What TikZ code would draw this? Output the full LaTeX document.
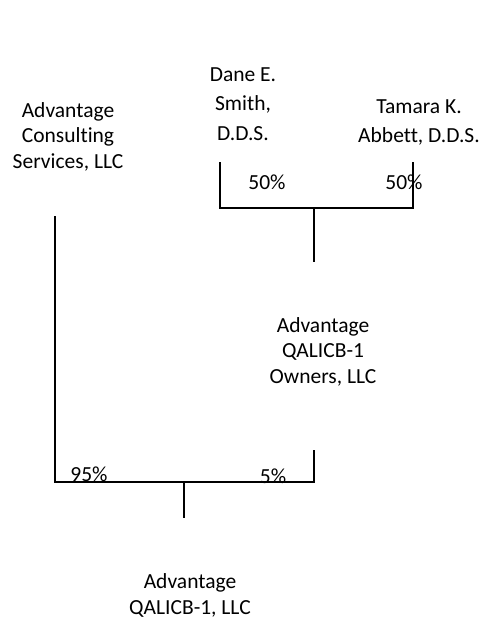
\documentclass[tikz,border=0pt]{standalone}
\usepackage{fontspec}
\setmainfont{Carlito}[Ligatures=NoCommon]

\begin{document}
\begin{tikzpicture}[x=1pt, y=-1pt,
    entity/.style={align=center, anchor=base, inner sep=0pt,
      font=\fontsize{21.5}{25.5}\selectfont},
    share/.style={anchor=base, inner sep=0pt, font=\fontsize{21.5}{25}\selectfont},
    owns/.style={line width=1.8pt}]
  \useasboundingbox (0,0) rectangle (487,621);

  % owners and companies (placed at the baseline of their last line)
  \node[entity] (acs) at (68,168) {Advantage\\Consulting\\Services, LLC};
  \node[entity, font=\fontsize{21.5}{29.5}\selectfont] (smith) at (243,140) {Dane E.\\Smith,\\D.D.S.};
  \node[entity, font=\fontsize{21.5}{29}\selectfont] (abbett) at (419,142) {Tamara K.\\Abbett, D.D.S.};
  \node[entity] (owners) at (323,383) {Advantage\\QALICB-1\\Owners, LLC};
  \node[entity] (qalicb) at (190,614) {Advantage\\QALICB-1, LLC};

  % upper bracket
  \coordinate (smithLeg) at (220,162);
  \coordinate (abbettLeg) at (413,162);
  \coordinate (upJoin) at (314,208);
  \coordinate (ownersIn) at (314,262);
  \draw[owns] (smithLeg) |- (abbettLeg |- upJoin) -- (abbettLeg);
  \draw[owns] (upJoin) -- (ownersIn);

  % lower bracket
  \coordinate (acsLeg) at (55,216);
  \coordinate (ownersLeg) at (314,450);
  \coordinate (lowJoin) at (184,482);
  \coordinate (qalicbIn) at (184,518);
  \draw[owns] (acsLeg) |- (ownersLeg |- lowJoin) -- (ownersLeg);
  \draw[owns] (lowJoin) -- (qalicbIn);

  % percentages
  \node[share] (smithPct) at (267,189) {50\%};
  \node[share] (abbettPct) at (404,189) {50\%};
  \node[share] (acsPct) at (89,481) {95\%};
  \node[share] (ownersPct) at (273,483) {5\%};
\end{tikzpicture}
\end{document}
